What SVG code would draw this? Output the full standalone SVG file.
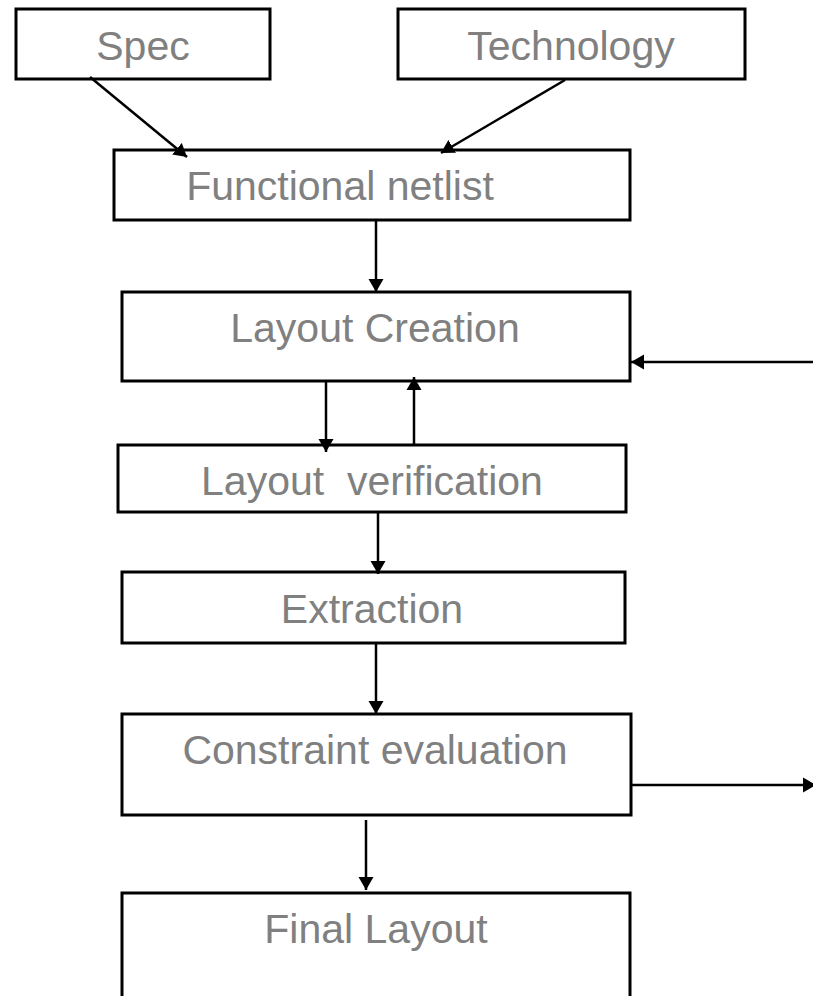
<svg xmlns="http://www.w3.org/2000/svg" width="813" height="996" viewBox="0 0 813 996">
  <style>
    .box { fill: #ffffff; stroke: #000000; stroke-width: 3; }
    .label { font-family: "Liberation Sans", Arial, sans-serif; font-size: 41px; fill: #808080; text-anchor: middle; white-space: pre; }
    .edge { fill: none; stroke: #000000; stroke-width: 2.5; marker-end: url(#head); }
  </style>
  <defs>
    <marker id="head" markerUnits="userSpaceOnUse" markerWidth="14" markerHeight="16" refX="13" refY="8" orient="auto">
      <path d="M0,0.5 L13,8 L0,15.5 z" fill="#000000"/>
    </marker>
  </defs>
  <rect width="813" height="996" fill="#ffffff"/>

  <g id="spec">
    <rect class="box" x="16" y="9" width="254" height="70"/>
    <text class="label" x="143" y="60">Spec</text>
  </g>
  <g id="technology">
    <rect class="box" x="398" y="9" width="347" height="70"/>
    <text class="label" x="571" y="60">Technology</text>
  </g>
  <g id="functional-netlist">
    <rect class="box" x="114" y="150" width="516" height="70"/>
    <text class="label" x="340" y="200">Functional netlist</text>
  </g>
  <g id="layout-creation">
    <rect class="box" x="122" y="292" width="508" height="89"/>
    <text class="label" x="375" y="342">Layout Creation</text>
  </g>
  <g id="layout-verification">
    <rect class="box" x="118" y="445" width="508" height="67"/>
    <text class="label" x="372" y="495">Layout  verification</text>
  </g>
  <g id="extraction">
    <rect class="box" x="122" y="572" width="503" height="71"/>
    <text class="label" x="372" y="623">Extraction</text>
  </g>
  <g id="constraint-evaluation">
    <rect class="box" x="122" y="714" width="509" height="101"/>
    <text class="label" x="375" y="764">Constraint evaluation</text>
  </g>
  <g id="final-layout">
    <rect class="box" x="122" y="893" width="508" height="120"/>
    <text class="label" x="376" y="943">Final Layout</text>
  </g>

  <g id="connectors">
    <line class="edge" x1="90" y1="77" x2="187" y2="157"/>
    <line class="edge" x1="565" y1="80" x2="441" y2="153"/>
    <line class="edge" x1="376" y1="220" x2="376" y2="292"/>
    <line class="edge" x1="813" y1="362" x2="631" y2="362"/>
    <line class="edge" x1="326" y1="381" x2="326" y2="452"/>
    <line class="edge" x1="414" y1="445" x2="414" y2="377"/>
    <line class="edge" x1="378" y1="512" x2="378" y2="574"/>
    <line class="edge" x1="376" y1="643" x2="376" y2="714"/>
    <line class="edge" x1="631" y1="785" x2="816" y2="785"/>
    <line class="edge" x1="366" y1="820" x2="366" y2="890"/>
  </g>
</svg>
